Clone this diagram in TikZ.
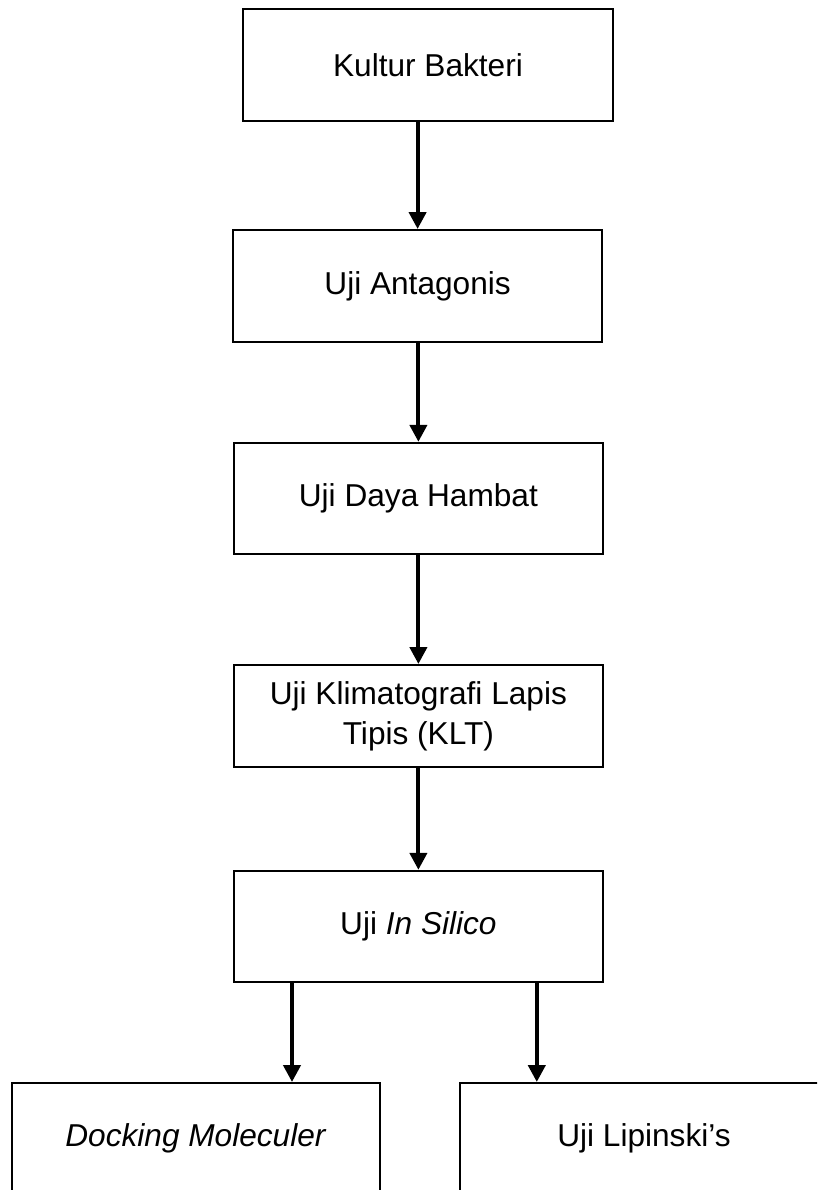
\documentclass[tikz,border=0pt]{standalone}
\usepackage{fontspec}
\setmainfont{Liberation Sans}
\usetikzlibrary{arrows.meta,calc}

\begin{document}
\begin{tikzpicture}[
  box/.style = {draw, line width=1.4pt, minimum width=9.22cm, minimum height=2.78cm,
                align=center, font=\fontsize{22.5}{28.4}\selectfont},
  arr/.style = {line width=2.9pt, -{Triangle[length=12pt,width=12pt]}}
  ]
  \useasboundingbox (0,0) rectangle (20.425,-29.75);
  \clip (0,0) rectangle (20.425,-29.75);
  \node[box, minimum width=9.25cm, minimum height=2.8cm] (kultur) at (10.7,-1.625) {Kultur Bakteri};
  \node[box, minimum height=2.8cm] (antag) at (10.44,-7.15) {Uji Antagonis};
  \node[box] (daya) at (10.46,-12.46) {Uji Daya Hambat};
  \node[box, minimum height=2.55cm] (klt) at (10.46,-17.9) {Uji Klimatografi Lapis\\Tipis (KLT)};
  \node[box] (silico) at (10.46,-23.16) {Uji \textit{In Silico}};
  \node[box, minimum width=9.2cm, minimum height=2.75cm] (docking) at (4.9,-28.45) {\textit{Docking Moleculer}};
  \node[box, minimum width=9.2cm, minimum height=2.75cm] (lipinski) at (16.1,-28.45) {Uji Lipinski’s};
  \draw[arr] (kultur.south -| antag.north) -- (antag.north);
  \draw[arr] (antag.south -| daya.north) -- (daya.north);
  \draw[arr] (daya) -- (klt);
  \draw[arr] (klt) -- (silico);
  \draw[arr] ([xshift=-3.16cm]silico.south) -- ([xshift=-3.16cm]silico.south |- docking.north);
  \draw[arr] ([xshift=2.96cm]silico.south) -- ([xshift=2.96cm]silico.south |- lipinski.north);
\end{tikzpicture}
\end{document}
